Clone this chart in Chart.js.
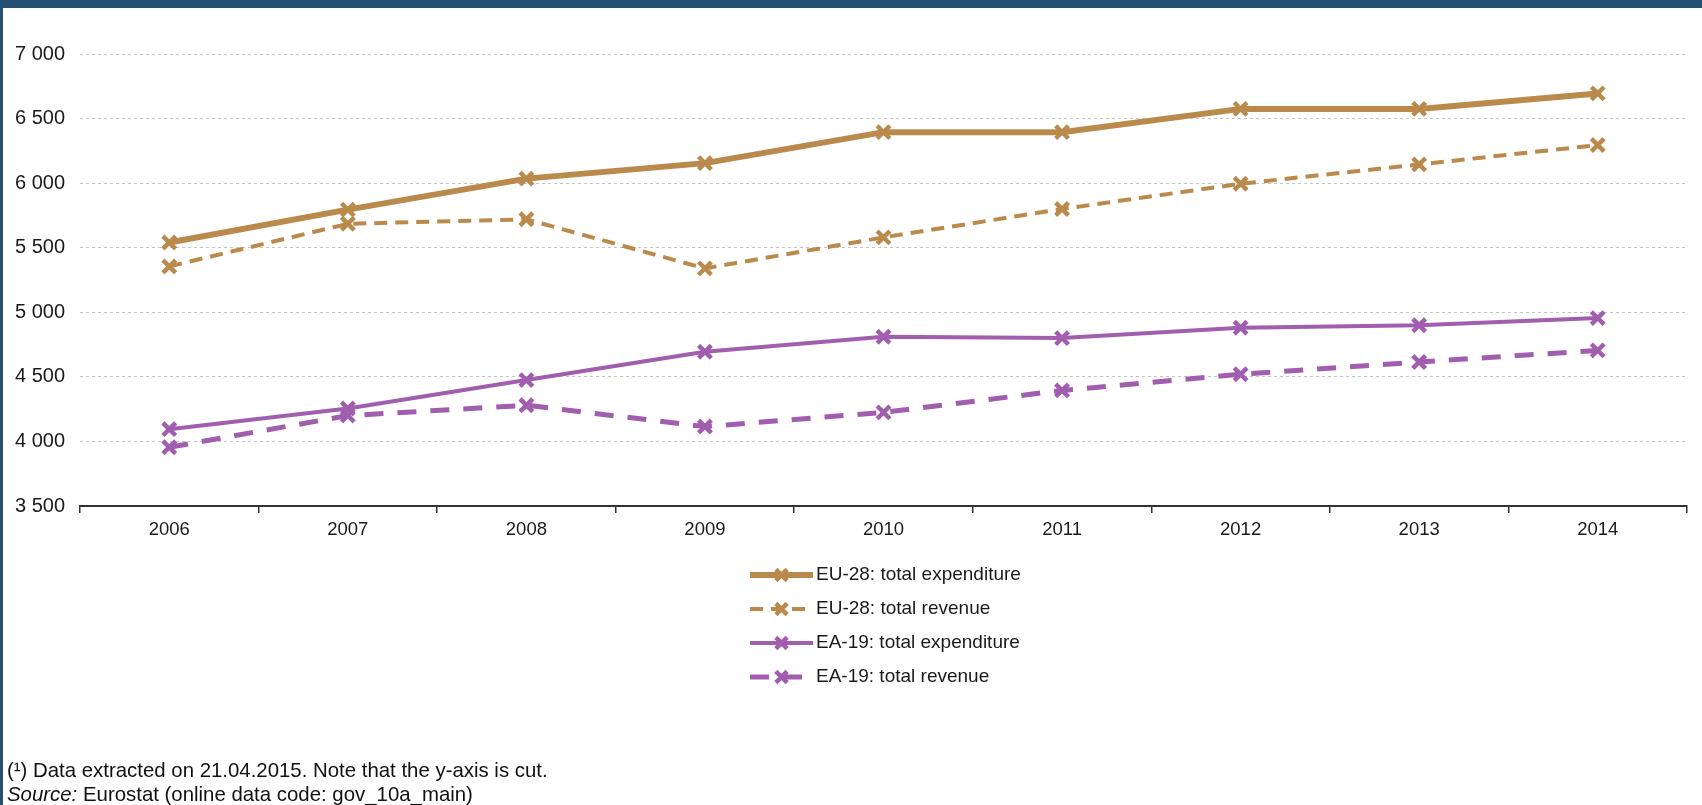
<!DOCTYPE html>
<html>
<head>
<meta charset="utf-8">
<script src="https://cdn.jsdelivr.net/npm/chart.js@4/dist/chart.umd.min.js"></script>
<style>
  html, body { margin: 0; padding: 0; }
  body { width: 1702px; height: 805px; background: #24516f; position: relative; overflow: hidden; }
  #panel { position: absolute; left: 3px; top: 8px; right: 0; bottom: 0; background: #fff; }
  #myChart { position: absolute; left: 0; top: 0; }
  #notes { position: absolute; left: 7px; top: 758px; font: 20.4px "Liberation Sans", Arial, sans-serif; line-height: 24px; color: #111; }
</style>
</head>
<body>
<div id="panel"></div>
<canvas id="myChart" width="1702" height="805"></canvas>
<div id="notes">
  <div>(¹) Data extracted on 21.04.2015. Note that the y-axis is cut.</div>
  <div><i>Source:</i> Eurostat (online data code: gov_10a_main)</div>
</div>
<script>
// years on the x axis
const years = ['2006', '2007', '2008', '2009', '2010', '2011', '2012', '2013', '2014'];

// EUR billion
const eu28Expenditure = [5540, 5795, 6035, 6155, 6395, 6395, 6575, 6575, 6695];
const eu28Revenue     = [5355, 5685, 5720, 5340, 5580, 5800, 5995, 6145, 6295];
const ea19Expenditure = [4095, 4255, 4475, 4695, 4810, 4800, 4880, 4900, 4955];
const ea19Revenue     = [3955, 4200, 4280, 4115, 4225, 4395, 4520, 4615, 4705];

const seriesLabels = [
  'EU-28: total expenditure',
  'EU-28: total revenue',
  'EA-19: total expenditure',
  'EA-19: total revenue'
];

const yTickValues = [3500, 4000, 4500, 5000, 5500, 6000, 6500, 7000];

const TAN = '#b98a4c';
const PURPLE = '#a15eae';
const FONT = '"Liberation Sans", Arial, sans-serif';

function spaced(v) {
  return String(v).replace(/\B(?=(\d{3})+(?!\d))/g, ' ');
}

function lineSet(label, values, color, width, dash) {
  return {
    label: label,
    data: values,
    borderColor: color,
    backgroundColor: color,
    borderWidth: width,
    borderDash: dash,
    pointStyle: 'crossRot',
    pointRadius: 9,
    pointHoverRadius: 9,
    pointBorderWidth: 4.5,
    pointBorderColor: color,
    fill: false,
    tension: 0
  };
}

// legend drawn as one column under the axis, line sample with the marker in it
const columnLegend = {
  id: 'columnLegend',
  afterDraw(chart) {
    const ctx = chart.ctx;
    const x0 = 750, x1 = 813, top = 575, step = 34;
    chart.data.datasets.forEach((ds, i) => {
      const y = top + i * step;
      ctx.save();
      ctx.strokeStyle = ds.borderColor;
      ctx.lineWidth = ds.borderWidth;
      ctx.setLineDash(ds.borderDash || []);
      ctx.beginPath();
      ctx.moveTo(x0, y);
      ctx.lineTo(x1, y);
      ctx.stroke();
      ctx.setLineDash([]);
      ctx.lineWidth = ds.pointBorderWidth;
      Chart.helpers.drawPoint(ctx, { pointStyle: 'crossRot', radius: 8, borderWidth: ds.pointBorderWidth, rotation: 0 }, (x0 + x1) / 2, y);
      ctx.fillStyle = '#1a1a1a';
      ctx.font = '19px ' + FONT;
      ctx.textBaseline = 'middle';
      ctx.textAlign = 'left';
      ctx.fillText(ds.label, x1 + 3, y);
      ctx.restore();
    });
  }
};

const ctx = document.getElementById('myChart').getContext('2d');

const data = {
  labels: years,
  datasets: [
    lineSet(seriesLabels[0], eu28Expenditure, TAN, 6, []),
    lineSet(seriesLabels[1], eu28Revenue, TAN, 4, [13, 8]),
    lineSet(seriesLabels[2], ea19Expenditure, PURPLE, 4, []),
    lineSet(seriesLabels[3], ea19Revenue, PURPLE, 5, [19, 14])
  ]
};

const options = {
  responsive: false,
  animation: false,
  layout: { padding: { top: 54, right: 15, left: 0, bottom: 0 } },
  plugins: {
    legend: { display: false },
    tooltip: { enabled: false }
  },
  scales: {
    x: {
      offset: true,
      grid: { offset: true, drawOnChartArea: false, drawTicks: true, tickLength: 7, color: '#333', lineWidth: 1.5 },
      border: { display: true, color: '#333', width: 2 },
      ticks: { color: '#1a1a1a', font: { family: FONT, size: 18.5 }, padding: 6, maxRotation: 0 },
      afterFit(scale) { scale.height = 299; }
    },
    y: {
      min: 3500,
      max: 7000,
      afterBuildTicks(scale) { scale.ticks = yTickValues.map(v => ({ value: v })); },
      grid: { color: '#c4c4c4', lineWidth: 1, drawTicks: false },
      border: { display: false, dash: [3, 3] },
      ticks: { color: '#1a1a1a', font: { family: FONT, size: 20 }, padding: 15, callback: v => spaced(v) },
      afterFit(scale) { scale.width = 80; }
    }
  }
};

// dashed horizontal gridlines
options.scales.y.grid.borderDash = [3, 3];
options.scales.y.border.dash = [3, 3];

const myChart = new Chart(ctx, {
  type: 'line',
  data: data,
  options: options,
  plugins: [columnLegend]
});
</script>
</body>
</html>
